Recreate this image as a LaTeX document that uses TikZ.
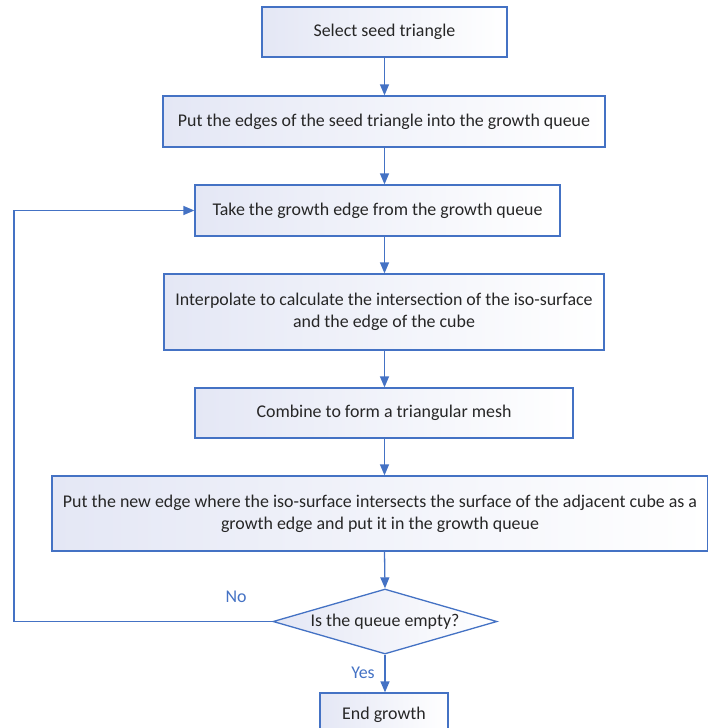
\documentclass[tikz,border=0pt]{standalone}
\usepackage{fontspec}
\setmainfont{Carlito}
\usetikzlibrary{arrows.meta,positioning,shapes.geometric}
\definecolor{flowblue}{RGB}{68,114,196}
\definecolor{flowfill}{RGB}{228,231,245}
\definecolor{flowtext}{RGB}{38,38,38}
\tikzset{font=\fontsize{17.9}{22}\selectfont}
\tikzset{flowbox/.style={draw=flowblue, line width=1.3pt, left color=flowfill,
    right color=white, text=flowtext, align=center, inner sep=0pt}}
\tikzset{flowarrow/.style={draw=flowblue, line width=1.3pt,
    -{Triangle[length=11pt,width=9pt]}}}
\tikzset{flowlabel/.style={text=flowblue}}

\begin{document}
\begin{tikzpicture}[x=1pt,y=-1pt]
  \useasboundingbox (0,0) rectangle (707,728);

  \node[flowbox, minimum width=245pt, minimum height=50pt] (select) at (384.5,32)
  {Select seed triangle};
  \node[flowbox, minimum width=442pt, minimum height=51pt] (putseed) at (384,121.5)
  {Put the edges of the seed triangle into the growth queue};
  \node[flowbox, minimum width=365pt, minimum height=51pt] (take) at (377.5,210.5)
  {Take the growth edge from the growth queue};
  \node[flowbox, minimum width=440pt, minimum height=76pt] (interp) at (384,312)
  {Interpolate to calculate the intersection of the iso-surface\\
    and the edge of the cube};
  \node[flowbox, minimum width=378pt, minimum height=50pt] (combine) at (384,413)
  {Combine to form a triangular mesh};
  \node[flowbox, minimum width=656pt, minimum height=75pt] (putnew) at (380,513.5)
  {Put the new edge where the iso-surface intersects the surface of the adjacent cube as a\\
    growth edge and put it in the growth queue};
  \node[flowbox, shape=diamond, aspect=3.45, minimum width=224pt,
  minimum height=65pt] (empty) at (385,621.5) {Is the queue empty?};
  \node[flowbox, minimum width=128pt, minimum height=44pt] (endg) at (384,715)
  {End growth};

  % main line
  \draw[flowarrow] (select.south -| select.south) -- (putseed.north -| select.south);
  \draw[flowarrow] (putseed.south -| select.south) -- (take.north -| select.south);
  \draw[flowarrow] (take.south -| select.south) -- (interp.north -| select.south);
  \draw[flowarrow] (interp.south -| select.south) -- (combine.north -| select.south);
  \draw[flowarrow] (combine.south -| select.south) -- (putnew.north -| select.south);
  \draw[flowarrow] (putnew.south -| select.south) -- (empty.north);
  \draw[flowarrow] (empty.south) -- (endg.north -| empty.south);

  % loop back
  \coordinate (loopcorner) at (14,621.5);
  \draw[flowarrow] (empty.west) -- (loopcorner) |- (take.west);

  \node[flowlabel] (nolabel) at (236,597) {No};
  \node[flowlabel] (yeslabel) at (363,673) {Yes};
\end{tikzpicture}
\end{document}
